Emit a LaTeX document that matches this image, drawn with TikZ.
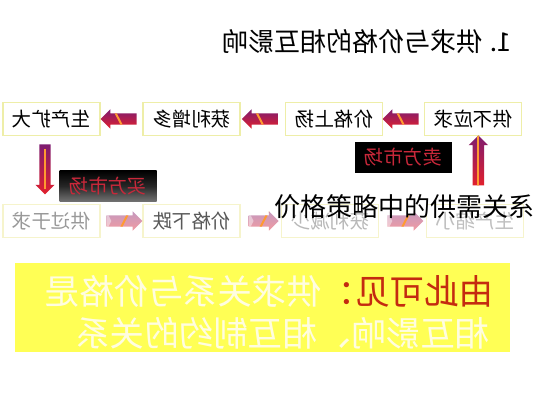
\documentclass[tikz,border=0pt]{standalone}
\usepackage{graphicx}
\usepackage{fontspec}
\setmainfont{Noto Sans CJK SC}
\usetikzlibrary{shapes.arrows}
\definecolor{boxedge}{HTML}{EEEEA8}
\definecolor{fadeedge}{HTML}{F6F4CC}
\definecolor{mktred}{HTML}{C8283A}
\definecolor{arrpurple}{HTML}{7E1C70}
\definecolor{arrred}{HTML}{E2202C}
\definecolor{arrorange}{HTML}{FF9A30}
\definecolor{sumyellow}{HTML}{FFFF55}
\definecolor{sumred}{HTML}{C42A10}
\newcommand{\mr}[1]{\reflectbox{#1}}
\begin{document}
\begin{tikzpicture}[x=1pt, y=-1pt,
  stbox/.style={rectangle, draw=boxedge, line width=1.6pt, fill=white, minimum width=97pt, minimum height=33pt, inner sep=0pt, font=\fontsize{19.5}{19.5}\selectfont},
  mkt/.style={rectangle, fill=black, text=mktred, minimum width=97pt, minimum height=31pt, inner sep=0pt, font=\fontsize{19.5}{19.5}\selectfont},
  fatarr/.style={single arrow, minimum height=36pt, inner xsep=0pt, inner ysep=5.5pt, single arrow head extend=4pt, draw=none,
    top color=arrpurple, bottom color=arrred,
    path picture={
      \draw[arrorange, line width=2pt] ([xshift=-5pt]path picture bounding box.south) -- ([xshift=5pt]path picture bounding box.north);
      \fill[white] (path picture bounding box.north west) -- ([xshift=5pt]path picture bounding box.west) -- (path picture bounding box.south west) -- cycle;}},
  fadearr/.style={fatarr, fill opacity=0.45}]
\useasboundingbox (0,0) rectangle (533,400);
% title
\node[font=\fontsize{26}{26}\selectfont, anchor=east] (title) at (515,42) {\mr{1. 供求与价格的相互影响}};
% upper row
\node[stbox] (b1) at (51.5,119) {\mr{生产扩大}};
\node[stbox] (b2) at (191.5,119) {\mr{获利增多}};
\node[stbox] (b3) at (334,119) {\mr{价格上扬}};
\node[stbox] (b4) at (473,119) {\mr{供不应求}};
% lower row
\node[stbox, draw=fadeedge, text=black!40] (b5) at (51.5,221) {\mr{供过于求}};
\node[stbox, draw=fadeedge, text=black!65] (b6) at (191.5,221) {\mr{价格下跌}};
\node[stbox, draw=fadeedge, text=black!28] (b7) at (330,221) {\mr{获利减少}};
\node[stbox, draw=fadeedge, text=black!25] (b8) at (475,221) {\mr{生产缩小}};
% arrows
\path (b4) -- node[fatarr, rotate=180] {} (b3);
\path (b3) -- node[fatarr, rotate=180] {} (b2);
\path (b2) -- node[fatarr, rotate=180] {} (b1);
\path ([xshift=-6.5pt]b1.south) -- node[fatarr, rotate=-90, minimum height=50pt, pos=0.45] {} ([xshift=-6.5pt]b5.north);
\path ([xshift=4pt]b8.north) -- node[fatarr, rotate=90, minimum height=50pt, pos=0.6] {} ([xshift=5pt]b4.south);
\path (b5) -- node[fadearr] {} (b6);
\path (b6) -- node[fadearr, minimum height=30pt] {} (b7);
\path (b7) -- node[fadearr] {} (b8);
% markets
\node[mkt] (sell) at (403,157) {\mr{卖方市场}};
\node[mkt, fill=none, top color=black, bottom color=black!55, middle color=black!85] (buy) at (108,186) {\mr{买方市场}};
% summary
\node[rectangle, fill=sumyellow, minimum width=495pt, minimum height=89pt, inner sep=0pt] (sum) at (262.5,307.5) {};
\node[anchor=east, inner sep=0pt, font=\fontsize{34.5}{34.5}\selectfont] (sum1) at (494,291) {\mr{\textcolor{sumred}{由此可见：}\textcolor{yellow!12}{供求关系与价格是}}};
\node[anchor=east, inner sep=0pt, font=\fontsize{34.5}{34.5}\selectfont, text=yellow!12] (sum2) at (490,333) {\mr{相互影响、相互制约的关系}};
% overlay caption
\node[anchor=west, inner sep=0pt, font=\fontsize{26}{26}\selectfont] (wmark) at (274,207) {价格策略中的供需关系};
\end{tikzpicture}
\end{document}
